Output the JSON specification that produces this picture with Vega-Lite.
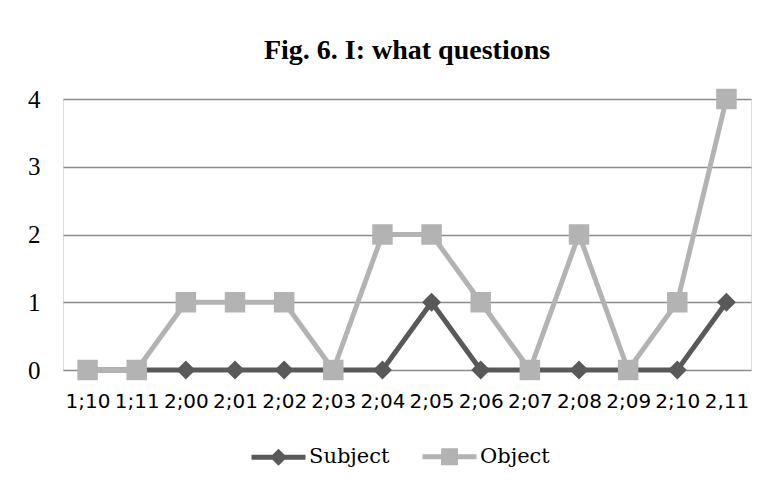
{
  "$schema": "https://vega.github.io/schema/vega-lite/v6.json",
  "width": 688,
  "height": 271,
  "autosize": {"type": "none"},
  "padding": {"left": 63, "top": 99, "right": 17, "bottom": 116},
  "background": "white",
  "title": {
    "text": "Fig. 6. I: what questions",
    "font": "Liberation Serif",
    "fontSize": 28,
    "fontWeight": "bold",
    "color": "black",
    "baseline": "alphabetic",
    "offset": 0
  },
  "data": {
    "values": [
      {"age": "1;10", "series": "Subject", "count": 0},
      {"age": "1;11", "series": "Subject", "count": 0},
      {"age": "2;00", "series": "Subject", "count": 0},
      {"age": "2;01", "series": "Subject", "count": 0},
      {"age": "2;02", "series": "Subject", "count": 0},
      {"age": "2;03", "series": "Subject", "count": 0},
      {"age": "2;04", "series": "Subject", "count": 0},
      {"age": "2;05", "series": "Subject", "count": 1},
      {"age": "2;06", "series": "Subject", "count": 0},
      {"age": "2;07", "series": "Subject", "count": 0},
      {"age": "2;08", "series": "Subject", "count": 0},
      {"age": "2;09", "series": "Subject", "count": 0},
      {"age": "2;10", "series": "Subject", "count": 0},
      {"age": "2,11", "series": "Subject", "count": 1},
      {"age": "1;10", "series": "Object", "count": 0},
      {"age": "1;11", "series": "Object", "count": 0},
      {"age": "2;00", "series": "Object", "count": 1},
      {"age": "2;01", "series": "Object", "count": 1},
      {"age": "2;02", "series": "Object", "count": 1},
      {"age": "2;03", "series": "Object", "count": 0},
      {"age": "2;04", "series": "Object", "count": 2},
      {"age": "2;05", "series": "Object", "count": 2},
      {"age": "2;06", "series": "Object", "count": 1},
      {"age": "2;07", "series": "Object", "count": 0},
      {"age": "2;08", "series": "Object", "count": 2},
      {"age": "2;09", "series": "Object", "count": 0},
      {"age": "2;10", "series": "Object", "count": 1},
      {"age": "2,11", "series": "Object", "count": 4}
    ]
  },
  "encoding": {
    "x": {
      "field": "age",
      "type": "nominal",
      "scale": {
        "type": "point",
        "padding": 0.5,
        "domain": ["1;10","1;11","2;00","2;01","2;02","2;03","2;04","2;05","2;06","2;07","2;08","2;09","2;10","2,11"]
      },
      "axis": {
        "title": null,
        "labelAngle": 0,
        "labelFont": "DejaVu Sans",
        "labelFontSize": 20,
        "labelColor": "black",
        "labelPadding": 21,
        "labelOverlap": false,
        "ticks": false,
        "domain": false,
        "grid": false
      }
    },
    "y": {
      "field": "count",
      "type": "quantitative",
      "scale": {"domain": [0, 4], "nice": false},
      "axis": {
        "title": null,
        "values": [0, 1, 2, 3, 4],
        "labelFont": "Liberation Serif",
        "labelFontSize": 25,
        "labelColor": "black",
        "labelPadding": 23,
        "ticks": false,
        "domain": false,
        "grid": true,
        "gridColor": "#8c8c8c",
        "gridWidth": 1.3
      }
    },
    "color": {
      "field": "series",
      "type": "nominal",
      "scale": {"domain": ["Subject", "Object"], "range": ["#595959", "#b3b3b3"]},
      "legend": {
        "orient": "none",
        "legendX": 186,
        "legendY": 328,
        "direction": "horizontal",
        "title": null,
        "padding": 0,
        "labelFont": "DejaVu Serif",
        "labelFontSize": 21,
        "labelColor": "black",
        "labelOffset": 1,
        "columnPadding": 22,
        "symbolSize": 2916,
        "symbolStrokeWidth": 5,
        "encode": {
          "symbols": {
            "update": {
              "shape": {"signal": "datum.value === 'Subject' ? 'M-1,0L1,0M-0.185,0L0,-0.185L0.185,0L0,0.185Z' : 'M-1,0L1,0M-0.22,-0.22L0.22,-0.22L0.22,0.22L-0.22,0.22Z'"},
              "fill": {"scale": "color", "field": "value"},
              "stroke": {"scale": "color", "field": "value"},
              "strokeWidth": {"value": 5},
              "opacity": {"value": 1},
              "fillOpacity": {"value": 1},
              "strokeOpacity": {"value": 1}
            }
          }
        }
      }
    }
  },
  "layer": [
    {
      "transform": [{"filter": "datum.series === 'Subject'"}],
      "mark": {"type": "line", "strokeWidth": 5}
    },
    {
      "transform": [{"filter": "datum.series === 'Subject'"}],
      "mark": {"type": "point", "shape": "diamond", "filled": true, "size": 360, "opacity": 1}
    },
    {
      "transform": [{"filter": "datum.series === 'Object'"}],
      "mark": {"type": "line", "strokeWidth": 5}
    },
    {
      "transform": [{"filter": "datum.series === 'Object'"}],
      "mark": {"type": "point", "shape": "square", "filled": true, "size": 420, "opacity": 1}
    }
  ]
}
